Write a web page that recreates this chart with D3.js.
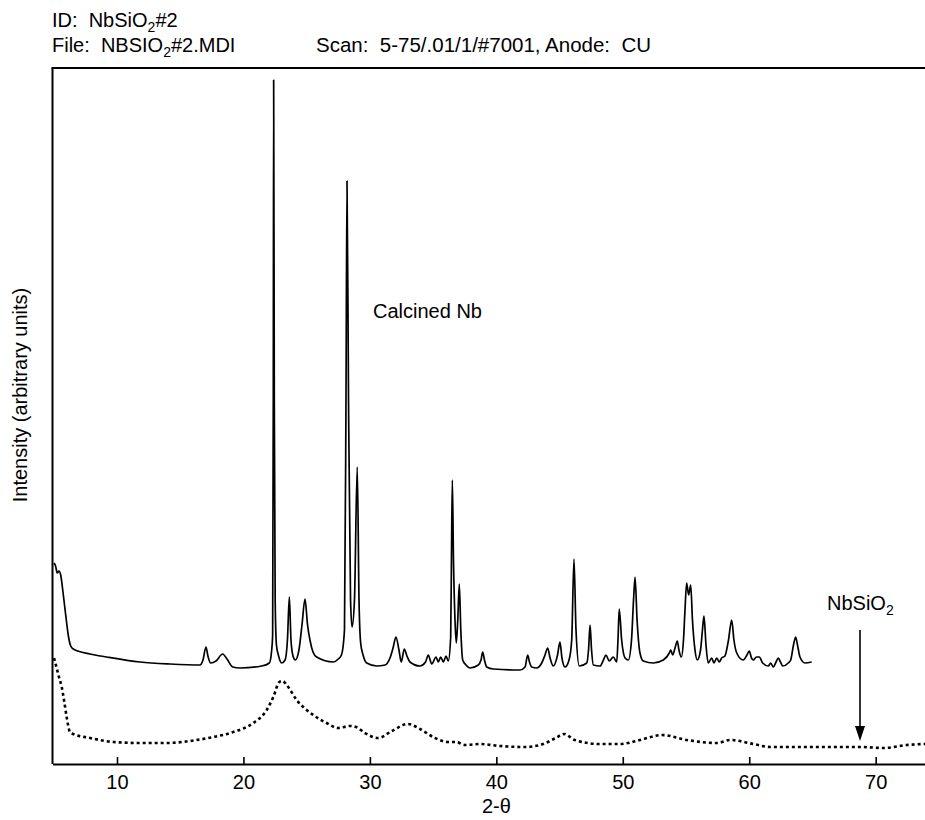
<!DOCTYPE html>
<html><head><meta charset="utf-8">
<script src="https://cdn.jsdelivr.net/npm/d3@7"></script>
<style>
html,body{margin:0;padding:0;background:#fff;}
svg{display:block;font-family:"Liberation Sans",Arial,sans-serif;}
text{white-space:pre;}
</style></head>
<body>
<svg id="chart" width="925" height="820"></svg>
<script>
// 2-theta (deg) and intensity (arbitrary units) for the calcined Nb pattern
const calcinedTheta = [5.02,5.14,5.28,5.41,5.55,5.71,5.85,6.02,6.17,6.34,6.54,7.87,9.19,11.82,14.19,16.56,16.8,17.04,17.19,17.41,17.83,18.36,18.70,19.15,19.73,21.44,22.05,22.22,22.31,22.36,22.39,22.44,22.51,22.61,22.76,23.03,23.29,23.48,23.63,23.76,23.92,24.10,24.39,24.63,24.87,25.07,25.26,25.50,25.79,27.11,27.50,27.75,27.99,28.11,28.19,28.31,28.47,28.59,28.78,29.00,29.14,29.27,29.46,29.75,30.54,31.20,31.59,31.83,32.06,32.30,32.48,32.72,32.93,33.17,33.96,34.40,34.62,34.89,35.23,35.41,35.60,35.81,36.02,36.20,36.39,36.45,36.52,36.61,36.73,36.83,36.95,37.07,37.19,37.34,37.60,37.92,38.57,38.79,38.92,39.06,39.24,39.76,41.87,42.27,42.48,42.62,42.80,43.19,43.59,43.85,44.06,44.25,44.51,44.84,45.03,45.19,45.43,45.75,45.96,46.14,46.30,46.56,47.15,47.29,47.41,47.53,47.67,48.20,48.47,48.67,48.93,49.25,49.52,49.62,49.72,49.91,50.18,50.44,50.69,50.85,50.97,51.13,51.36,51.62,52.41,53.20,53.68,53.79,53.95,54.13,54.31,54.44,54.63,54.80,54.92,55.05,55.21,55.37,55.51,55.71,55.89,56.15,56.30,56.42,56.58,56.76,57.03,57.21,57.43,57.63,57.82,58.08,58.36,58.61,58.79,59.01,59.53,59.82,60.0,60.18,60.32,60.57,60.80,61.06,61.51,61.70,61.90,62.12,62.30,62.47,62.65,63.09,63.28,63.50,63.67,63.86,64.01,64.41,64.94];
const calcinedIntensity = [201,198,191,193,189,174,159,141,127,118,115,110,107,102,100,99,104,117,108,101,103,110,105,97,96,98,101,112,129,364,684,364,164,119,109,101,104,124,167,124,108,104,114,139,165,139,124,112,107,102,105,109,134,364,583,364,164,137,164,297,164,121,109,101,98,99,106,116,127,114,102,115,108,102,98,102,109,100,107,102,107,102,108,103,127,204,284,204,144,121,144,180,134,104,99,96,99,104,112,104,97,95,94,97,109,102,97,96,101,109,116,106,98,109,122,106,97,104,124,205,134,98,101,114,139,114,99,98,104,109,103,107,102,124,155,124,106,104,124,164,187,144,111,103,101,104,111,114,109,116,123,114,107,124,154,181,169,179,144,114,104,114,134,148,119,101,106,101,106,102,106,108,124,144,124,111,104,109,113,106,104,107,107,101,98,101,97,102,106,102,98,101,104,119,127,116,107,101,102];
// 2-theta and intensity for the NbSiO2 pattern (dotted)
const nbsioTheta = [5.02,5.23,5.41,5.63,5.81,6.02,6.28,6.54,7.87,9.71,11.82,13.93,15.77,17.62,19.20,20.78,21.84,22.36,22.84,23.11,23.42,24.21,25.52,26.58,27.50,28.43,28.9,29.61,30.64,31.75,33.0,33.96,35.15,36.18,36.81,37.52,38.71,40.29,42.27,43.7,44.7,45.35,46.2,48.2,49.78,51.36,53.08,55.06,57.43,58.51,60.33,61.65,65.6,68.77,70.61,72.45,73.9];
const nbsioIntensity = [106,96,87,77,64,47,32,30,26,22,21,21,23,27,32,41,54,67,82,83,79,64,49,41,36,38,37,31,26,33,40,35,26,22,22,19,20,18,17,20,26,30,24,20,20,24,29,24,21,24,20,17,17,17,16,19,20];
const xTicks = [10,20,30,40,50,60,70];
const xLabel = "2-\u03b8";
const yLabel = "Intensity (arbitrary units)";
const arrowTheta = 68.76;

const svg = d3.select("#chart");
const x = d3.scaleLinear().domain([4.9, 73.9]).range([52.5, 925]);
const y = d3.scaleLinear().domain([0, 696]).range([764, 68]);

const line = d3.line().x(d => x(d[0])).y(d => y(d[1])).curve(d3.curveMonotoneX);
const calc = calcinedTheta.map((t, i) => [t, calcinedIntensity[i]]);
const nbs = nbsioTheta.map((t, i) => [t, nbsioIntensity[i]]);

svg.append("path").datum(calc).attr("d", line)
  .attr("fill", "none").attr("stroke", "#000").attr("stroke-width", 1.7)
  .attr("stroke-linejoin", "round");
svg.append("path").datum(nbs).attr("d", line)
  .attr("fill", "none").attr("stroke", "#000").attr("stroke-width", 2.6)
  .attr("stroke-dasharray", "3,3");

// frame
const [x0, x1] = x.range();
const [yb, yt] = y.range();
svg.append("line").attr("x1", x0).attr("x2", x0).attr("y1", yt).attr("y2", yb).attr("stroke", "#000").attr("stroke-width", 2);
svg.append("line").attr("x1", x0 - 1).attr("x2", x1).attr("y1", yt).attr("y2", yt).attr("stroke", "#000").attr("stroke-width", 2);

const xAxis = d3.axisBottom(x).tickValues(xTicks).tickSizeInner(-7).tickSizeOuter(0).tickPadding(11).tickFormat(d3.format("d"));
const gx = svg.append("g").attr("transform", `translate(0,${yb})`).call(xAxis);
gx.select(".domain").attr("stroke-width", 2.2);
gx.selectAll(".tick line").attr("stroke-width", 1.6);
gx.selectAll(".tick text").attr("font-size", 20).attr("font-family", "Liberation Sans, Arial, sans-serif").attr("fill", "#000");

svg.append("text").attr("x", x(40)).attr("y", 813).attr("text-anchor", "middle")
  .attr("font-size", 20).text(xLabel);
svg.append("text").attr("transform", "translate(27,395) rotate(-90)").attr("text-anchor", "middle")
  .attr("font-size", 20).text(yLabel);

// header
const h1 = svg.append("text").attr("x", 52).attr("y", 27).attr("font-size", 20);
h1.append("tspan").text("ID:  NbSiO");
h1.append("tspan").attr("font-size", 14).attr("dy", 5).text("2");
h1.append("tspan").attr("dy", -5).text("#2");
const h2 = svg.append("text").attr("x", 52).attr("y", 52).attr("font-size", 20);
h2.append("tspan").text("File:  NBSIO");
h2.append("tspan").attr("font-size", 14).attr("dy", 5).text("2");
h2.append("tspan").attr("dy", -5).text("#2.MDI");
svg.append("text").attr("x", 316).attr("y", 52).attr("font-size", 20.5).text("Scan:  5-75/.01/1/#7001, Anode:  CU");

// annotations
svg.append("text").attr("x", 373).attr("y", 318).attr("font-size", 20).text("Calcined Nb");
const lab = svg.append("text").attr("x", 827).attr("y", 610).attr("font-size", 20);
lab.append("tspan").text("NbSiO");
lab.append("tspan").attr("font-size", 14).attr("dy", 5).text("2");
const ax = x(arrowTheta);
svg.append("line").attr("x1", ax).attr("x2", ax).attr("y1", 630).attr("y2", 730).attr("stroke", "#000").attr("stroke-width", 1.6);
svg.append("path").attr("d", `M${ax - 5},${726} L${ax + 5},${726} L${ax},${741} Z`).attr("fill", "#000");
</script>
</body></html>
